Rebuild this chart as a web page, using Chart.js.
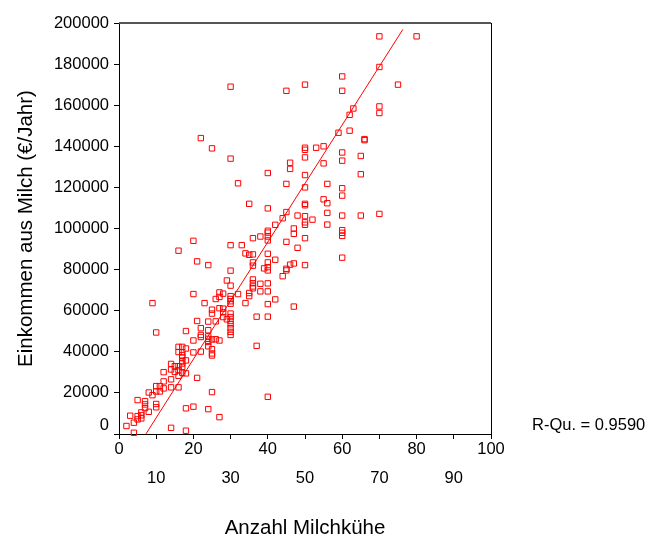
<!DOCTYPE html>
<html lang="de">
<head>
  <meta charset="UTF-8"/>
  <title>Einkommen aus Milch – Streudiagramm</title>
  <script src="https://cdn.jsdelivr.net/npm/chart.js"></script>
  <style>
    html, body { margin: 0; padding: 0; background: #fff; }
    #wrap { width: 653px; height: 539px; }
  </style>
</head>
<body>
  <div id="wrap"><canvas id="scatter" width="653" height="539"></canvas></div>
  <script>
    // Anzahl Milchkühe (x) und Einkommen aus Milch in €/Jahr (y)
    const cows = [
      30, 45, 50, 60, 60, 75, 70, 80, 70, 22,
      25, 30, 46, 46, 50, 50, 50, 53, 55, 59,
      62, 62, 63, 70, 70, 66, 66, 40, 32, 45,
      50, 50, 55, 60, 60, 65, 65, 56, 60, 60,
      55, 56, 35, 40, 45, 48, 50, 50, 50, 44,
      52, 56, 60, 65, 70, 50, 50, 56, 47, 47,
      60, 60, 60, 50, 48, 47, 46, 50, 60, 47,
      42, 40, 40, 40, 40, 45, 36, 38, 30, 33,
      34, 35, 36, 36, 36, 40, 40, 42, 40, 40,
      39, 45, 45, 44, 36, 36, 36, 36, 38, 38,
      40, 40, 40, 40, 42, 37, 37, 40, 30, 29,
      30, 30, 30, 30, 30, 32, 34, 35, 35, 20,
      9, 20, 16, 21, 24, 23, 26, 27, 28, 27,
      25, 25, 28, 28, 28, 27, 30, 30, 30, 30,
      30, 30, 30, 29, 26, 24, 21, 18, 22, 22,
      22, 24, 24, 24, 20, 22, 24, 25, 26, 27,
      24, 25, 25, 25, 20, 16, 17, 16, 17, 17,
      17, 18, 18, 17, 17, 14, 15, 14, 15, 16,
      16, 17, 17, 18, 16, 12, 14, 12, 10, 11,
      12, 10, 11, 9, 14, 16, 8, 21, 5, 7,
      7, 7, 10, 10, 8, 6, 6, 6, 5, 5,
      4, 3, 2, 14, 18, 18, 20, 24, 25, 27, 10, 4
    ];
    const income = [
      169000, 167000, 170000, 174000, 167000, 170000, 193500, 193500, 178600, 144000,
      139000, 134000, 132000, 129000, 139300, 138300, 134600, 139300, 140000, 146600,
      147600, 155300, 158400, 159400, 156200, 143000, 143500, 127000, 122000, 121700,
      126000, 120000, 131700, 137000, 133000, 135300, 126400, 121700, 119600, 116000,
      114200, 112300, 112000, 109800, 108000, 106300, 112000, 111300, 106000, 105000,
      104300, 107600, 106300, 106300, 107100, 103000, 101800, 101900, 100000, 97400,
      99200, 97900, 96400, 95300, 90600, 83000, 82400, 82200, 85800, 62000,
      101800, 98900, 98000, 96100, 94200, 93500, 95300, 96100, 91900, 91900,
      87900, 87200, 87400, 83500, 81900, 87700, 83500, 84800, 81200, 79600,
      80600, 80400, 79600, 76800, 75200, 73400, 71800, 70900, 73100, 69400,
      73300, 69400, 63200, 57100, 65500, 57100, 42900, 18100, 79500, 74700,
      72200, 67100, 65700, 64600, 63400, 68100, 63700, 68600, 67100, 68100,
      63700, 94000, 89200, 84000, 82200, 63700, 65700, 68900, 68300, 66700,
      60500, 58600, 61000, 59200, 56900, 61200, 58600, 56900, 55000, 53400,
      51500, 49700, 48200, 55800, 54800, 54700, 55000, 50100, 51500, 48200,
      47200, 50500, 46300, 47500, 45500, 40100, 44800, 46000, 46100, 45500,
      42700, 41300, 39200, 38200, 39700, 42400, 42400, 39900, 39800, 38300,
      37200, 41600, 35800, 35400, 34300, 34100, 33000, 31400, 30200, 33000,
      31100, 32700, 29800, 29500, 28300, 30100, 26600, 25600, 23300, 23300,
      22200, 20700, 20700, 18900, 22700, 22700, 20200, 27300, 16500, 16000,
      14400, 12600, 14600, 13000, 10800, 10500, 9100, 7600, 8700, 7100,
      5500, 8900, 3900, 3000, 1600, 12500, 13300, 12100, 20400, 8200, 49400, 600
    ];

    // Regressionsgerade, Endpunkte auf der x-Achse
    const fitX = [7.23, 76.3];
    const fitIntercept = -20600;
    const fitSlope = 2850;
    const rSquaredLabel = "R-Qu. = 0.9590";

    const xTicks = [0, 10, 20, 30, 40, 50, 60, 70, 80, 90, 100];
    const yTicks = [0, 20000, 40000, 60000, 80000, 100000, 120000, 140000, 160000, 180000, 200000];

    const FONT = "'Liberation Sans', Arial, Helvetica, sans-serif";

    const framePlugin = {
      id: 'frame',
      beforeDatasetsDraw(chart) {
        const { ctx, chartArea: a } = chart;
        ctx.save();
        ctx.strokeStyle = '#555';
        ctx.lineWidth = 2;
        ctx.beginPath();
        ctx.moveTo(a.left, a.top);
        ctx.lineTo(a.right, a.top);
        ctx.stroke();
        ctx.strokeStyle = '#000';
        ctx.lineWidth = 1;
        ctx.beginPath();
        ctx.moveTo(a.right + 0.5, a.top);
        ctx.lineTo(a.right + 0.5, a.bottom);
        ctx.stroke();
        ctx.restore();
      },
      afterDraw(chart) {
        const { ctx } = chart;
        ctx.save();
        ctx.fillStyle = '#000';
        ctx.font = "16.5px " + FONT;
        ctx.textAlign = 'left';
        ctx.textBaseline = 'middle';
        ctx.fillText(rSquaredLabel, 532, 425);
        ctx.restore();
      }
    };

    new Chart(document.getElementById('scatter'), {
      type: 'scatter',
      data: {
        datasets: [
          {
            label: 'Beobachtet',
            data: cows.map((c, i) => ({ x: c, y: income[i] })),
            pointStyle: 'rect',
            pointRadius: 3.8,
            pointBorderWidth: 1,
            pointBorderColor: '#ff0000',
            pointBackgroundColor: 'rgba(0,0,0,0)',
            clip: false
          },
          {
            type: 'line',
            label: 'Linear',
            data: fitX.map(x => ({ x, y: fitIntercept + fitSlope * x })),
            borderColor: '#ff0000',
            borderWidth: 1,
            pointRadius: 0,
            fill: false
          }
        ]
      },
      options: {
        responsive: false,
        animation: false,
        devicePixelRatio: 1,
        layout: { padding: { left: 0, top: 23, right: 162, bottom: 0 } },
        plugins: { legend: { display: false }, tooltip: { enabled: false } },
        scales: {
          x: {
            type: 'linear',
            min: 0,
            max: 100,
            afterBuildTicks: s => { s.ticks = xTicks.map(v => ({ value: v })); },
            afterFit: s => { s.height = 105; },
            border: { display: true, color: '#000', width: 1 },
            grid: { drawOnChartArea: false, drawTicks: true, tickLength: 5, color: '#000' },
            ticks: {
              autoSkip: false,
              maxRotation: 0,
              padding: -4.5,
              color: '#000',
              font: { family: FONT, size: 16.5, lineHeight: 29 / 16.5 },
              callback: v => ((v / 10) % 2 === 1 ? ['', String(v)] : String(v))
            },
            title: {
              display: true,
              text: 'Anzahl Milchkühe',
              color: '#000',
              font: { family: FONT, size: 20.5, lineHeight: 1 },
              padding: { top: 0, bottom: 0 }
            }
          },
          y: {
            type: 'linear',
            min: 0,
            max: 200000,
            afterBuildTicks: s => { s.ticks = yTicks.map(v => ({ value: v })); },
            afterFit: s => { s.width = 119; },
            border: { display: true, color: '#000', width: 1 },
            grid: { drawOnChartArea: false, drawTicks: true, tickLength: 5, color: '#000' },
            ticks: {
              autoSkip: false,
              padding: 5,
              color: '#000',
              font: { family: FONT, size: 16.5, lineHeight: 18 / 16.5 },
              callback: v => (v === 0 ? ['0', ''] : String(v))
            },
            title: {
              display: true,
              text: 'Einkommen aus Milch (€/Jahr)',
              color: '#000',
              font: { family: FONT, size: 20.5, lineHeight: 1 },
              padding: { top: 16, bottom: 0 }
            }
          }
        }
      },
      plugins: [framePlugin]
    });
  </script>
</body>
</html>
